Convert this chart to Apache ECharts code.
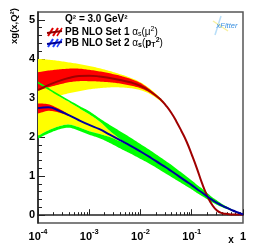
<!DOCTYPE html>
<html><head><meta charset="utf-8">
<script src="https://cdn.jsdelivr.net/npm/echarts@6/dist/echarts.min.js"></script>
<style>html,body{margin:0;padding:0;background:#fff}#c{width:255px;height:248px}</style>
</head><body><div id="c"></div>
<script>
// x grid (log-spaced sample positions)
const X = [1e-4,1.585e-4,2.512e-4,3.981e-4,6.31e-4,1e-3,1.585e-3,2.512e-3,3.981e-3,6.31e-3,0.01,0.01585,0.02512,0.03162,0.03981,0.05012,0.0631,0.07943,0.1,0.1259,0.1585,0.1995,0.2512,0.3162,0.3981,0.5012,0.631,0.7943,1];
// PB NLO Set 1 central + bands
const SET1 = [3.20,3.33,3.43,3.51,3.56,3.57,3.55,3.51,3.46,3.40,3.31,3.16,2.95,2.80,2.62,2.40,2.15,1.88,1.55,1.20,0.82,0.50,0.26,0.11,0.05,0.03,0.02,0.02,0.02];
const SET1_EXP_HI = [3.66,3.70,3.73,3.75,3.75,3.72,3.68,3.63,3.57,3.49,3.38,3.20,2.97];
const SET1_EXP_LO = [3.19,3.27,3.34,3.40,3.43,3.43,3.42,3.40,3.37,3.32,3.25,3.12,2.93];
const SET1_MOD_HI = [4.00,3.98,3.95,3.91,3.87,3.82,3.76,3.69,3.61,3.52,3.40,3.22,2.98,2.81];
const SET1_MOD_LO = [2.90,2.98,3.05,3.12,3.17,3.22,3.25,3.27,3.27,3.25,3.20,3.09,2.91,2.79];
// PB NLO Set 2 central + bands
const SET2 = [2.74,2.76,2.68,2.56,2.43,2.31,2.20,2.06,1.92,1.78,1.63,1.47,1.30,1.22,1.13,1.04,0.95,0.86,0.77,0.67,0.58,0.48,0.39,0.31,0.24,0.18,0.12,0.07,0.02];
const SET2_EXP_HI = [2.86,2.84,2.73,2.58];
const SET2_EXP_LO = [2.60,2.67,2.63,2.54];
const SET2_MOD_HI = [3.37,3.21,3.05,2.90,2.74,2.58,2.40,2.16,1.95];
const SET2_MOD_LO = [2.03,2.17,2.27,2.32,2.25,2.15,2.08,2.00,1.89];
const SET2_PAR_HI = [3.42,3.26,3.10,2.95,2.80,2.66,2.48,2.31,2.15,1.99,1.82,1.65,1.47,1.38,1.29,1.19,1.09,0.99,0.89,0.78,0.68,0.57,0.46,0.37,0.28,0.21,0.14,0.08,0.03];
const SET2_PAR_LO = [1.96,2.09,2.19,2.24,2.16,2.06,1.97,1.85,1.71,1.58,1.44,1.30,1.14,1.06,0.98,0.90,0.82,0.74,0.66,0.57,0.49,0.41,0.33,0.26,0.20,0.15,0.10,0.06,0.01];
// ticks
const X_MAJOR = [1e-4,1e-3,1e-2,1e-1,1];
const X_MINOR_MULT = [2,3,4,5,6,7,8,9];
const Y_MAJOR = [0,1,2,3,4,5];
const Y_MINOR = [0.2,0.4,0.6,0.8,1.2,1.4,1.6,1.8,2.2,2.4,2.6,2.8,3.2,3.4,3.6,3.8,4.2,4.4,4.6,4.8];

const FONT = 'Liberation Sans';
const xMinor = [];
for (let d = 0; d < X_MAJOR.length - 1; d++) X_MINOR_MULT.forEach(m => xMinor.push(+(X_MAJOR[d]*m).toPrecision(3)));

// Catmull-Rom sampling in pixel space (drawing only)
function spline(pts) {
  const out = [];
  const S = 8;
  for (let i = 0; i < pts.length - 1; i++) {
    const p0 = pts[i-1] || pts[i], p1 = pts[i], p2 = pts[i+1], p3 = pts[i+2] || pts[i+1];
    for (let k = 0; k < S; k++) {
      const t = k / S, t2 = t*t, t3 = t2*t;
      const f = (a,b,c,d) => 0.5*((2*b) + (-a+c)*t + (2*a-5*b+4*c-d)*t2 + (-a+3*b-3*c+d)*t3);
      out.push([f(p0[0],p1[0],p2[0],p3[0]), f(p0[1],p1[1],p2[1],p3[1])]);
    }
  }
  out.push(pts[pts.length-1]);
  return out;
}
let zc = 1;
function band(lo, hi, color) {
  const n = Math.min(lo.length, hi.length);
  const z = zc++;
  return {type:'custom', coordinateSystem:'cartesian2d', data:[[X[0], hi[0]]], clip:true, silent:true, z,
    renderItem:(params, api) => {
      const up = [], dn = [];
      for (let i = 0; i < n; i++) { up.push(api.coord([X[i], hi[i]])); dn.push(api.coord([X[i], lo[i]])); }
      const pts = spline(up).concat(spline(dn).reverse());
      return {type:'polygon', shape:{points:pts}, style:{fill:color, stroke:null}};
    }};
}
function line(vals, color) {
  return {type:'line', data:vals.map((v,i)=>[X[i], v]), smooth:true, symbol:'none', lineStyle:{color:color, width:2}, silent:true, z:50};
}
// inner edges of Set 2 (yellow where present, else central line)
const s2InHi = SET2.map((v,i)=> i < SET2_MOD_HI.length ? SET2_MOD_HI[i] : v);
const s2InLo = SET2.map((v,i)=> i < SET2_MOD_LO.length ? SET2_MOD_LO[i] : v);

const series = [
  band(SET2_MOD_LO, SET2_MOD_HI, '#ffff00'),
  band(SET1_MOD_LO, SET1_MOD_HI, '#ffff00'),
  band(SET1_EXP_LO, SET1_EXP_HI, '#ff0000'),
  band(s2InHi, SET2_PAR_HI, '#00ff00'),
  band(SET2_PAR_LO, s2InLo, '#00ff00'),
  band(SET2_EXP_LO, SET2_EXP_HI, '#ff0000'),
  line(SET1, '#a00000'), line(SET2, '#0000a0')
];

const chart = echarts.init(document.getElementById('c'), null, {renderer:'canvas'});
chart.setOption({
  animation:false,
  grid:{left:38, right:12, top:12, bottom:25, show:true, borderColor:'#555', borderWidth:1.5, backgroundColor:'transparent'},
  xAxis:[
    {type:'log', logBase:10, min:1e-4, max:1, position:'bottom',
     axisLine:{show:true, lineStyle:{color:'#222', width:1.5}},
     splitLine:{show:false}, minorTick:{show:false},
     axisTick:{show:true, inside:true, length:6, customValues:X_MAJOR, lineStyle:{color:'#222', width:1}},
     axisLabel:{customValues:X_MAJOR, margin:5,
       formatter: v => { const e = Math.round(Math.log10(v)); return e === 0 ? '{b|1}' : '{b|10}{s|' + e + '}'; },
       rich:{ b:{fontFamily:FONT, fontWeight:'bold', fontSize:11, color:'#000', lineHeight:14, verticalAlign:'bottom'},
              s:{fontFamily:FONT, fontWeight:'bold', fontSize:7.5, color:'#000', lineHeight:8, verticalAlign:'top'} } }},
    {type:'log', logBase:10, min:1e-4, max:1, position:'bottom',
     axisLine:{show:false}, splitLine:{show:false}, axisLabel:{show:false},
     axisTick:{show:true, inside:true, length:3, customValues:xMinor, lineStyle:{color:'#222', width:1}}}
  ],
  yAxis:[
    {type:'value', min:-0.2, max:5.2,
     axisLine:{show:true, lineStyle:{color:'#222', width:1.5}}, splitLine:{show:false},
     axisTick:{show:true, inside:true, length:7, customValues:Y_MAJOR, lineStyle:{color:'#222', width:1}},
     axisLabel:{customValues:Y_MAJOR, margin:3, fontFamily:FONT, fontWeight:'bold', fontSize:11, color:'#000'}},
    {type:'value', min:-0.2, max:5.2, position:'left',
     axisLine:{show:false}, splitLine:{show:false}, axisLabel:{show:false},
     axisTick:{show:true, inside:true, length:4, customValues:Y_MINOR, lineStyle:{color:'#222', width:1}}}
  ],
  series: series,
  graphic:[
    {type:'text', x:14, y:26, rotation:Math.PI/2, style:{text:'xg(x,Q²)', font:'bold 9.5px "Liberation Sans"', fill:'#000', align:'center', verticalAlign:'middle'}},
    {type:'text', x:231, y:240, style:{text:'x', font:'bold 10px "Liberation Sans"', fill:'#000', align:'center', verticalAlign:'middle'}},
    {type:'text', x:65, y:19, style:{text:'Q² = 3.0 GeV²', font:'bold 10px "Liberation Sans"', fill:'#000', align:'left', verticalAlign:'middle'}},
    {type:'text', x:65, y:32, style:{align:'left', verticalAlign:'middle',
      text:'{t|PB NLO Set 1 }{a|α}{s|s}{a|(μ}{p|2}{a|)}',
      rich:{t:{fontFamily:FONT, fontWeight:'bold', fontSize:10, lineHeight:12, fill:'#000'},
            a:{fontFamily:FONT, fontSize:10, lineHeight:12, fill:'#000'},
            s:{fontFamily:FONT, fontSize:7, lineHeight:7, verticalAlign:'bottom', fill:'#000'},
            p:{fontFamily:FONT, fontSize:7, lineHeight:7, verticalAlign:'top', fill:'#000'}}}},
    {type:'text', x:65, y:43, style:{align:'left', verticalAlign:'middle',
      text:'{t|PB NLO Set 2 }{a|α}{s|s}{a|(}{t|p}{s|T}{p|2}{a|)}',
      rich:{t:{fontFamily:FONT, fontWeight:'bold', fontSize:10, lineHeight:12, fill:'#000'},
            a:{fontFamily:FONT, fontSize:10, lineHeight:12, fill:'#000'},
            s:{fontFamily:FONT, fontWeight:'bold', fontSize:7, lineHeight:7, verticalAlign:'bottom', fill:'#000'},
            p:{fontFamily:FONT, fontWeight:'bold', fontSize:7, lineHeight:7, verticalAlign:'top', fill:'#000'}}}},
    {type:'group', children:[
      {type:'line', shape:{x1:48,y1:36,x2:53,y2:28}, style:{stroke:'#e00000', lineWidth:2}},
      {type:'line', shape:{x1:53,y1:36,x2:58,y2:28}, style:{stroke:'#e00000', lineWidth:2}},
      {type:'line', shape:{x1:57,y1:36,x2:62,y2:28}, style:{stroke:'#e00000', lineWidth:1.5}},
      {type:'line', shape:{x1:47,y1:33,x2:62,y2:31}, style:{stroke:'#900000', lineWidth:2}},
      {type:'line', shape:{x1:48,y1:47,x2:53,y2:39}, style:{stroke:'#2040ff', lineWidth:2}},
      {type:'line', shape:{x1:53,y1:47,x2:58,y2:39}, style:{stroke:'#2040ff', lineWidth:2}},
      {type:'line', shape:{x1:57,y1:47,x2:62,y2:39}, style:{stroke:'#2040ff', lineWidth:1.5}},
      {type:'line', shape:{x1:47,y1:44,x2:62,y2:42}, style:{stroke:'#000090', lineWidth:2}}
    ]},
    {type:'group', children:[
      {type:'line', shape:{x1:221,y1:16,x2:215,y2:35}, style:{stroke:'#b8def8', lineWidth:1.5}},
      {type:'line', shape:{x1:213,y1:21,x2:228,y2:31}, style:{stroke:'#f8f0a0', lineWidth:1.5}},
      {type:'text', x:227, y:25.5, style:{text:'xFitter', font:'italic 7.5px "Liberation Sans"', fill:'#3a90e0', align:'center', verticalAlign:'middle'}}
    ]}
  ]
});
</script></body></html>
